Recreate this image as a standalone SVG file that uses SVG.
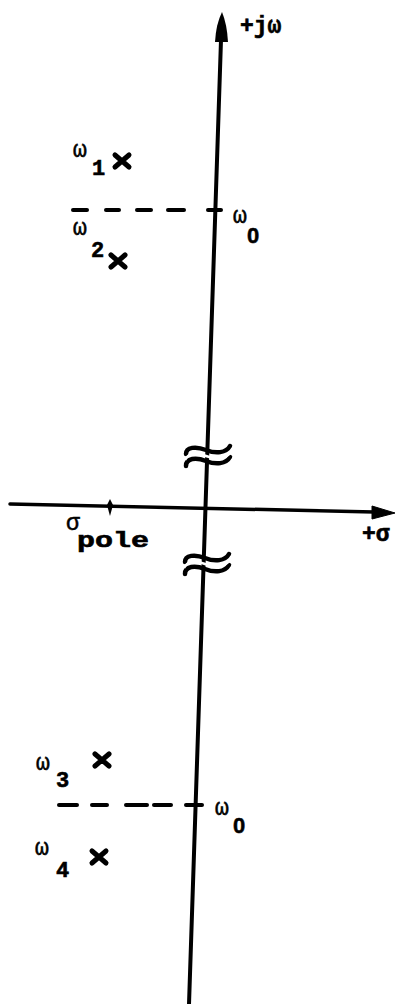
<svg xmlns="http://www.w3.org/2000/svg" width="395" height="1004" viewBox="0 0 395 1004">
<style>
.ax{stroke:#000;fill:none;stroke-linecap:round}
.dash{stroke:#000;stroke-width:4;stroke-linecap:round}
.w{font-family:"Liberation Mono","DejaVu Sans Mono",monospace;font-size:23px;fill:#000;stroke:#000;stroke-width:0.5}
.d{font-family:"Liberation Mono","DejaVu Sans Mono",monospace;font-size:22px;font-weight:bold;fill:#000;stroke:#000;stroke-width:0.6}
.z{font-family:"Liberation Sans","DejaVu Sans",sans-serif;font-size:22px;font-weight:bold;fill:#000}
.big{font-size:23px}
.pole{font-size:22px}
.brk{stroke:#000;stroke-width:4.5;fill:none;stroke-linecap:round}
.gap{stroke:#fff;stroke-width:2.5;fill:none}
</style>
<defs>
<g id="xm"><path d="M-7,-6 L7,6 M7,-6 L-7,6" stroke="#000" stroke-width="5" stroke-linecap="round"/></g>
<g id="brkA">
<path class="brk" d="M-22,-1 C-22,-8 -12,-9 -2,-5 S18,-2 22,-9"/>
<path class="brk" d="M-22,11 C-22,3 -12,2 -2,6 S18,9 22,2"/>
<path class="gap" d="M-23,5 C-20,-2 -12,-3 -2,1 S18,4 23,-3"/>
</g>
</defs>
<g id="connectors">
<line class="ax" x1="221" y1="40" x2="189" y2="1004" stroke-width="4"/>
<path d="M222,12 Q227,24 228,42 L215,42 Q216,24 222,12 Z" fill="#000"/>
<line class="ax" x1="10" y1="504" x2="374" y2="512" stroke-width="3.5"/>
<path d="M395,513 L372,506 L372,519 Z" fill="#000" stroke="#000" stroke-width="1" stroke-linejoin="round"/>
<polygon points="110,499 113,505 110,516 107,505" fill="#000"/>
<line class="dash" x1="73" y1="210" x2="87" y2="210"/>
<line class="dash" x1="106" y1="210" x2="119" y2="210"/>
<line class="dash" x1="137" y1="210" x2="151" y2="210"/>
<line class="dash" x1="168" y1="210" x2="184" y2="210"/>
<line class="dash" x1="208" y1="210" x2="221" y2="210"/>
<line class="dash" x1="59" y1="805" x2="77" y2="805"/>
<line class="dash" x1="92" y1="805" x2="107" y2="805"/>
<line class="dash" x1="126" y1="805" x2="147" y2="805"/>
<line class="dash" x1="154" y1="805" x2="171" y2="805"/>
<line class="dash" x1="186" y1="805" x2="202" y2="805"/>
</g>
<g id="break-upper"><use href="#brkA" transform="translate(208,455)"/></g>
<g id="break-lower"><use href="#brkA" transform="translate(207,563)"/></g>
<g id="label-jw"><text class="d big" x="240" y="33">+j<tspan class="w">ω</tspan></text></g>
<g id="label-sigma"><text class="d big" x="362" y="541">+σ</text></g>
<g id="pole1"><text class="w" x="73" y="157">ω<tspan class="d" x="92" y="175">1</tspan></text><use href="#xm" transform="translate(122,161)"/></g>
<g id="pole2"><text class="w" x="73" y="235">ω<tspan class="d" x="91" y="257">2</tspan></text><use href="#xm" transform="translate(118,261)"/></g>
<g id="w0-top"><text class="w" x="233" y="223">ω<tspan class="z" x="247" y="243">0</tspan></text></g>
<g id="sigma-pole"><text class="w" x="66" y="530">σ<tspan class="d pole" x="77" y="547" textLength="72" lengthAdjust="spacingAndGlyphs">pole</tspan></text></g>
<g id="pole3"><text class="w" x="36" y="770">ω<tspan class="d" x="56" y="787">3</tspan></text><use href="#xm" transform="translate(102,760)"/></g>
<g id="pole4"><text class="w" x="35" y="855">ω<tspan class="d" x="56" y="877">4</tspan></text><use href="#xm" transform="translate(99,857)"/></g>
<g id="w0-bottom"><text class="w" x="215" y="815">ω<tspan class="z" x="233" y="833">0</tspan></text></g>
</svg>
